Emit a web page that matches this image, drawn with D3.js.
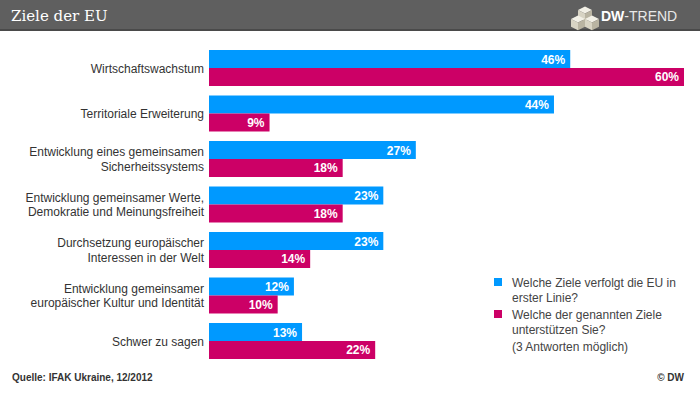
<!DOCTYPE html>
<html>
<head>
<meta charset="utf-8">
<script src="https://cdn.jsdelivr.net/npm/d3@7.9.0/dist/d3.min.js"></script>
<style>
  body { margin: 0; background: #fff; }
  svg { display: block; font-family: "Liberation Sans", Arial, sans-serif; }
</style>
</head>
<body>
<svg id="chart" width="700" height="394"></svg>
<script>
// Data
const categories = [
  ["Wirtschaftswachstum"],
  ["Territoriale Erweiterung"],
  ["Entwicklung eines gemeinsamen", "Sicherheitssystems"],
  ["Entwicklung gemeinsamer Werte,", "Demokratie und Meinungsfreiheit"],
  ["Durchsetzung europäischer", "Interessen in der Welt"],
  ["Entwicklung gemeinsamer", "europäischer Kultur und Identität"],
  ["Schwer zu sagen"]
];
const zieleEU = [46, 44, 27, 23, 23, 12, 13];      // Welche Ziele verfolgt die EU in erster Linie?
const unterstuetzt = [60, 9, 18, 18, 14, 10, 22];  // Welche der genannten Ziele unterstützen Sie?
const seriesNames = [
  ["Welche Ziele verfolgt die EU in", "erster Linie?"],
  ["Welche der genannten Ziele", "unterstützen Sie?"]
];
const colors = ["#0099ff", "#cc0066"];

const svg = d3.select("#chart");
const W = 700;

// header
svg.append("rect").attr("x", 0).attr("y", 0).attr("width", W).attr("height", 30).attr("fill", "#5f5f5f");
svg.append("rect").attr("x", 0).attr("y", 29).attr("width", W).attr("height", 2).attr("fill", "#4a4a4a");
svg.append("text").attr("x", 11).attr("y", 21)
  .attr("font-family", "'DejaVu Serif', Georgia, serif").attr("font-size", 15)
  .attr("fill", "#fff").text("Ziele der EU");

// logo cubes
const logo = svg.append("g").attr("transform", "translate(571,7)");
const cube = (g, x, y, s) => {
  g.append("polygon").attr("points", `${x},${y} ${x+s},${y-s/2} ${x+2*s},${y} ${x+s},${y+s/2}`).attr("fill", "#f2f0e6");
  g.append("polygon").attr("points", `${x},${y} ${x+s},${y+s/2} ${x+s},${y+1.6*s} ${x},${y+1.1*s}`).attr("fill", "#d8d4c4");
  g.append("polygon").attr("points", `${x+s},${y+s/2} ${x+2*s},${y} ${x+2*s},${y+1.1*s} ${x+s},${y+1.6*s}`).attr("fill", "#b9b4a2");
};
cube(logo, 7, 3, 7);
cube(logo, 0, 12, 7);
cube(logo, 14, 12, 7);
const lt = svg.append("text").attr("x", 601).attr("y", 21).attr("font-size", 14).attr("fill", "#fff");
lt.append("tspan").attr("font-weight", "bold").text("DW");
lt.append("tspan").attr("fill", "#e8e8e8").text("-TREND");

// scales
const left = 209;
const x = d3.scaleLinear().domain([0, 60]).range([196.4, 684]);
const y = d3.scaleBand().domain(d3.range(categories.length))
  .range([45.25, 363.75]).paddingInner(0.209).paddingOuter(0.1045);
const barH = y.bandwidth() / 2;

const series = [zieleEU, unterstuetzt];
series.forEach((vals, s) => {
  const g = svg.append("g");
  g.selectAll("rect").data(vals).join("rect")
    .attr("x", left)
    .attr("y", (d, i) => y(i) + s * barH)
    .attr("width", d => x(d) - left)
    .attr("height", barH)
    .attr("fill", colors[s]);
  g.selectAll("text").data(vals).join("text")
    .attr("x", d => x(d) - 5)
    .attr("y", (d, i) => y(i) + s * barH + barH / 2 + 4.5)
    .attr("text-anchor", "end")
    .attr("font-size", 12).attr("font-weight", "bold").attr("fill", "#fff")
    .text(d => d + "%");
});

// category labels
categories.forEach((lines, i) => {
  const cy = y(i) + y.bandwidth() / 2;
  const t = svg.append("text").attr("text-anchor", "end")
    .attr("font-size", 12).attr("fill", "#333");
  lines.forEach((l, k) => {
    t.append("tspan").attr("x", 204)
      .attr("y", cy + 4.5 + (k - (lines.length - 1) / 2) * 14.5)
      .text(l);
  });
});

// legend
const legY = [278, 310];
seriesNames.forEach((lines, s) => {
  svg.append("rect").attr("x", 494).attr("y", legY[s]).attr("width", 8).attr("height", 8).attr("fill", colors[s]);
  lines.forEach((l, k) => {
    svg.append("text").attr("x", 512).attr("y", legY[s] + 8.5 + k * 15)
      .attr("font-size", 12).attr("fill", "#444").text(l);
  });
});
svg.append("text").attr("x", 512).attr("y", 351).attr("font-size", 12).attr("fill", "#444").text("(3 Antworten möglich)");

// footer
svg.append("text").attr("x", 12).attr("y", 381)
  .attr("font-family", "'Liberation Sans Narrow', 'Arial Narrow', sans-serif")
  .attr("font-size", 10).attr("font-weight", "bold").attr("fill", "#333")
  .text("Quelle: IFAK Ukraine, 12/2012");
svg.append("text").attr("x", 684).attr("y", 381).attr("text-anchor", "end")
  .attr("font-family", "'Liberation Sans Narrow', 'Arial Narrow', sans-serif")
  .attr("font-size", 10).attr("font-weight", "bold").attr("fill", "#333")
  .text("© DW");
</script>
</body>
</html>
